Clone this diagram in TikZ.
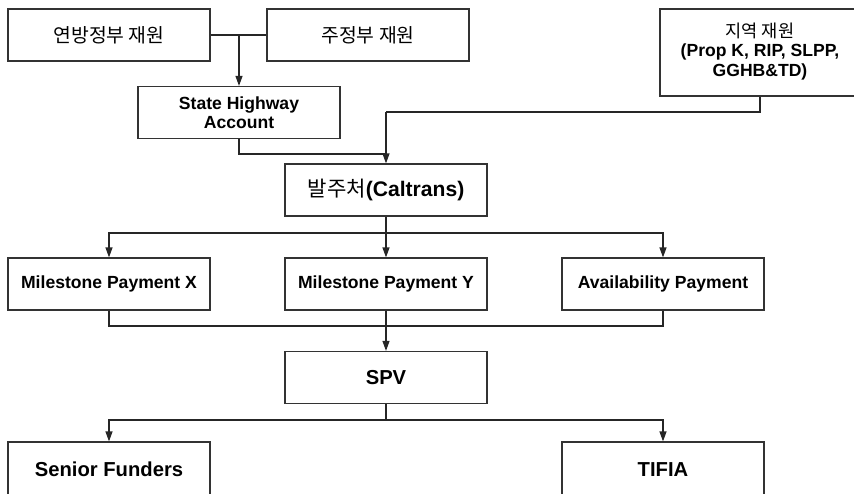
\documentclass[tikz,border=0pt]{standalone}
\usepackage{fontspec}
\setmainfont{Liberation Sans}
\newfontfamily\kr{Noto Sans CJK KR}
\usetikzlibrary{arrows.meta}

\begin{document}
\begin{tikzpicture}[
    box/.style={rectangle, draw=black!80, line width=0.7pt, align=center, minimum width=4.04cm, minimum height=1.04cm, inner sep=2pt, font=\bfseries\fontsize{10}{11}\selectfont},
    krbox/.style={box, font=\kr\fontsize{11}{13}\selectfont},
    bigbox/.style={box, font=\bfseries\fontsize{11.5}{13}\selectfont},
    line/.style={draw=black!85, line width=0.7pt},
    arrow/.style={line, -{Triangle[length=2mm, width=1.4mm]}}
]
\useasboundingbox (0,0) rectangle (17.08,-9.86);
\clip (0,0) rectangle (17.08,-9.86);

% Funding sources
\node[krbox] (federal) at (2.18, -0.70) {연방정부 재원};
\node[krbox] (statefund) at (7.36, -0.70) {주정부 재원};
\node[box] (highway) at (4.78, -2.25) {State Highway\\Account};
% box runs past the right edge, text kept left of centre
\node[box, minimum width=5cm, minimum height=1.74cm] (regional) at (15.7, -1.05)
    {\begin{tabular}{@{}c@{\hspace{1cm}}}{\kr\mdseries 지역 재원}\\(Prop K, RIP, SLPP,\\GGHB\&TD)\end{tabular}};

% Owner
\node[box, font=\fontsize{12}{14}\selectfont] (caltrans) at (7.72, -3.80) {{\kr 발주처}\textbf{(Caltrans)}};

% Payments
\node[box] (payx)  at (2.18, -5.68)  {Milestone Payment X};
\node[box] (payy)  at (7.72, -5.68)  {Milestone Payment Y};
\node[box] (avail) at (13.26, -5.68) {Availability Payment};

% SPV and lenders
\node[bigbox] (spv) at (7.72, -7.55) {SPV};
\node[bigbox, minimum height=1.1cm] (senior) at (2.18, -9.39)  {Senior Funders};
\node[bigbox, minimum height=1.1cm] (tifia)  at (13.26, -9.39) {TIFIA};

% Junction points
\coordinate (topjoin) at (4.78, -0.70);
\coordinate (rjoin)   at (7.72, -2.24);
\coordinate (sjoin)   at (7.72, -3.08);
\coordinate (split1)  at (7.72, -4.66);
\coordinate (join2)   at (7.72, -6.52);
\coordinate (split2)  at (7.72, -8.40);

% Top connections
\draw[line] (federal.east) -- (statefund.west);
\draw[arrow] (topjoin) -- (highway.north);
\draw[line] (highway.south) |- (sjoin);
\draw[line] ([xshift=-0.5cm]regional.south) |- (rjoin);
\draw[arrow] (rjoin) -- (caltrans.north);

% Caltrans to payments
\draw[line] (caltrans.south) -- (split1);
\draw[arrow] (split1) -| (payx.north);
\draw[arrow] (split1) -- (payy.north);
\draw[arrow] (split1) -| (avail.north);

% Payments to SPV
\draw[line] (payx.south) |- (join2);
\draw[line] (avail.south) |- (join2);
\draw[arrow] (payy.south) -- (spv.north);

% SPV to lenders
\draw[line] (spv.south) -- (split2);
\draw[arrow] (split2) -| (senior.north);
\draw[arrow] (split2) -| (tifia.north);

\end{tikzpicture}
\end{document}
